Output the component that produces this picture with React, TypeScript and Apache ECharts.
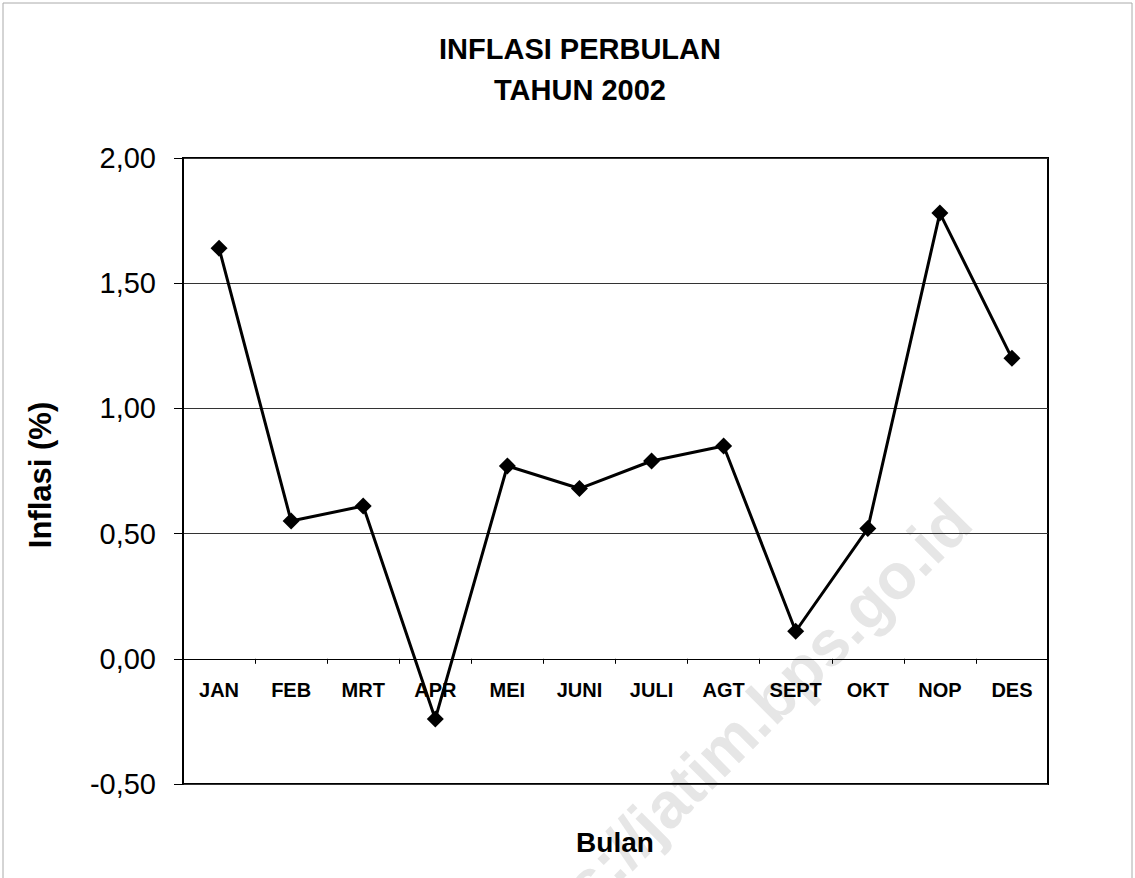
import React, { useEffect, useRef } from "react";
import * as echarts from "echarts";

const months = ["JAN", "FEB", "MRT", "APR", "MEI", "JUNI", "JULI", "AGT", "SEPT", "OKT", "NOP", "DES"];
const inflation = [1.64, 0.55, 0.61, -0.24, 0.77, 0.68, 0.79, 0.85, 0.11, 0.52, 1.78, 1.2];
const titleLines = ["INFLASI PERBULAN", "TAHUN 2002"];
const yAxisName = "Inflasi (%)";
const xAxisName = "Bulan";
const watermark = "https://jatim.bps.go.id";

export default function App() {
  const ref = useRef<HTMLDivElement>(null);
  useEffect(() => {
    if (!ref.current) return;
    const chart = echarts.init(ref.current, null, { renderer: "svg" });
    const font = "'Liberation Sans', Arial, sans-serif";
    chart.setOption({
      animation: false,
      backgroundColor: "#ffffff",
      textStyle: { fontFamily: font },
      title: {
        text: titleLines.join("\n"),
        left: 575,
        top: 23,
        textAlign: "center",
        textStyle: { fontFamily: font, fontWeight: "bold", fontSize: 29, lineHeight: 41, color: "#000" },
      },
      grid: {
        left: 183,
        right: 87,
        top: 158,
        bottom: 94,
        show: true,
        borderColor: "#000",
        borderWidth: 2,
        backgroundColor: "transparent",
      },
      xAxis: {
        type: "category",
        data: months,
        boundaryGap: true,
        axisLine: { onZero: true, lineStyle: { color: "#000", width: 1 } },
        axisTick: { show: true, alignWithLabel: false, inside: false, length: 5, lineStyle: { color: "#000" } },
        axisLabel: { color: "#000", fontSize: 20, fontWeight: "bold", margin: -104, fontFamily: font },
        splitLine: { show: false },
      },
      yAxis: {
        type: "value",
        min: -0.5,
        max: 2,
        interval: 0.5,
        axisLine: { show: true, lineStyle: { color: "#000", width: 2 } },
        axisTick: { show: true, length: 9, lineStyle: { color: "#000" } },
        axisLabel: {
          color: "#000",
          fontSize: 29,
          margin: 27,
          fontFamily: font,
          formatter: (v: number) => v.toFixed(2).replace(".", ","),
        },
        splitLine: { show: true, lineStyle: { color: "#333", width: 1 } },
      },
      graphic: [
        {
          type: "rect",
          shape: { x: 3, y: 3, width: 1129, height: 890 },
          style: { fill: "none", stroke: "#aaa", lineWidth: 1 },
          silent: true,
          z: -10,
        },
        {
          type: "text",
          x: 725,
          y: 746,
          rotation: Math.PI / 4,
          z: -5,
          style: {
            text: watermark,
            fontSize: 64,
            fontWeight: "bold",
            fontFamily: font,
            fill: "#e6e6e6",
            textAlign: "center",
            textVerticalAlign: "middle",
          },
        },
        {
          type: "text",
          x: 40,
          y: 475,
          rotation: Math.PI / 2,
          style: {
            text: yAxisName,
            fontSize: 31,
            fontWeight: "bold",
            fontFamily: font,
            fill: "#000",
            textAlign: "center",
            textVerticalAlign: "middle",
          },
        },
        {
          type: "text",
          x: 615,
          y: 842,
          style: {
            text: xAxisName,
            fontSize: 28,
            fontWeight: "bold",
            fontFamily: font,
            fill: "#000",
            textAlign: "center",
            textVerticalAlign: "middle",
          },
        },
      ],
      series: [
        {
          type: "line",
          data: inflation,
          symbol: "diamond",
          symbolSize: 17,
          lineStyle: { color: "#000", width: 3 },
          itemStyle: { color: "#000" },
          z: 5,
        },
      ],
    });
    return () => chart.dispose();
  }, []);
  return (
    <div
      ref={ref}
      style={{ position: "absolute", left: 0, top: 0, width: 1135, height: 878 }}
    />
  );
}
